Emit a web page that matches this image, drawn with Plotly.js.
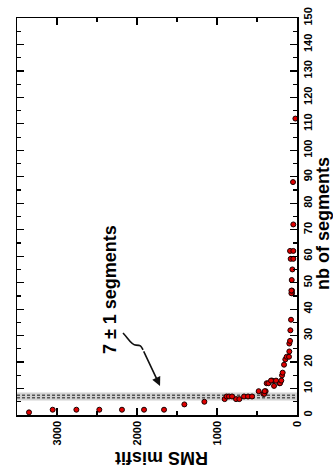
<!DOCTYPE html>
<html><head><meta charset="utf-8">
<script src="https://cdn.plot.ly/plotly-3.0.1.min.js"></script>
<style>html,body{margin:0;padding:0;background:#fff;}#chart{width:333px;height:474px;}</style>
</head><body><div id="chart"></div>
<script>
// RMS misfit (x) and number of segments (y)
const rmsMisfit = [3350, 3054, 2758, 2471, 2188, 1912, 1662, 1408, 1158,
  904, 762, 721, 880, 850, 812, 662, 612, 562,
  421, 408, 479, 392, 404,
  287, 379, 358, 221, 212, 312, 262, 196, 325,
  187, 179, 162, 146, 129, 100, 96, 96, 87, 83, 75,
  62, 70, 62, 70, 66, 58, 79, 46, 87, 46, 46, 50, 20];
const nbSegments = [1, 2, 2, 2, 2, 2, 2, 4, 5,
  6, 6, 6, 7, 7, 7, 7, 7, 7,
  8, 8, 9, 9, 9,
  11, 12, 12, 12, 12, 13, 13, 13, 13,
  15, 16, 19, 21, 22, 22, 24, 27, 28, 32, 36,
  46, 46, 47, 47, 51, 55, 59, 59, 62, 62, 72, 88, 112];
const xTickVals = [0, 1000, 2000, 3000];
const yTickVals = [0, 10, 20, 30, 40, 50, 60, 70, 80, 90, 100, 110, 120, 130, 140, 150];
const bandLow = 6, bandHigh = 8;

const font = {family: 'Liberation Sans, Arial, sans-serif', color: '#000'};

const trace = {
  x: rmsMisfit, y: nbSegments, type: 'scatter', mode: 'markers',
  marker: {size: 5, color: '#e00000', line: {color: '#1a0000', width: 1}},
  cliponaxis: false, hoverinfo: 'none'
};

const layout = {
  width: 333, height: 474,
  margin: {l: 17, r: 36, t: 18, b: 59},
  paper_bgcolor: '#fff', plot_bgcolor: '#fff',
  showlegend: false,
  font: font,
  xaxis: {
    range: [3500, 0], showgrid: false, zeroline: false,
    showline: true, linecolor: '#000', linewidth: 1.5, mirror: 'ticks',
    ticks: 'inside', ticklen: 7, tickwidth: 1.2, tickcolor: '#000',
    tickvals: xTickVals, ticktext: xTickVals.map(String),
    tickangle: -90,
    tickfont: {family: font.family, size: 11, weight: 'bold', color: '#000'},
    minor: {dtick: 500, ticks: 'inside', ticklen: 4, tickwidth: 1.2, tickcolor: '#000', showgrid: false},
    automargin: false
  },
  yaxis: {
    range: [0, 150], side: 'right', showgrid: false, zeroline: false,
    showline: true, linecolor: '#000', linewidth: 1.5, mirror: 'ticks',
    ticks: 'inside', ticklen: 7, tickwidth: 1.2, tickcolor: '#000',
    tickvals: yTickVals, ticktext: yTickVals.map(String),
    tickangle: -90,
    tickfont: {family: font.family, size: 11, weight: 'bold', color: '#000'},
    minor: {dtick: 5, ticks: 'inside', ticklen: 4, tickwidth: 1.2, tickcolor: '#000', showgrid: false},
    automargin: false
  },
  shapes: [
    {type: 'rect', xref: 'paper', x0: 0, x1: 1, yref: 'y', y0: bandLow - 0.5, y1: bandHigh + 0.5,
     fillcolor: '#d2d2d2', line: {width: 0}, layer: 'below'},
    {type: 'line', xref: 'paper', x0: 0, x1: 1, yref: 'y', y0: bandLow + 0.5, y1: bandLow + 0.5,
     line: {color: '#555', width: 1.5, dash: '3px,2px'}, layer: 'below'},
    {type: 'line', xref: 'paper', x0: 0, x1: 1, yref: 'y', y0: bandHigh - 0.5, y1: bandHigh - 0.5,
     line: {color: '#555', width: 1.5, dash: '3px,2px'}, layer: 'below'},
    {type: 'path', xref: 'x', yref: 'y',
     path: 'M 2175,31 C 2112,29.1 2075,26.4 2012,26.4 S 1950,26.1 1925,24.6',
     line: {color: '#111', width: 1.6}}
  ],
  annotations: [
    {xref: 'x', yref: 'y', x: 1712, y: 11, axref: 'x', ayref: 'y', ax: 1925, ay: 24.6,
     text: '', showarrow: true, arrowhead: 2, arrowsize: 1.1, arrowwidth: 1.6, arrowcolor: '#111'},
    {xref: 'paper', yref: 'paper', x: 0.332, y: 0.317, xanchor: 'center', yanchor: 'middle',
     text: '7 ± 1 segments', textangle: -90, showarrow: false,
     font: {family: font.family, size: 18, weight: 'bold', color: '#000'}},
    {xref: 'paper', yref: 'paper', x: 0.516, y: -0.107, xanchor: 'center', yanchor: 'middle',
     text: 'RMS misfit', textangle: 180, showarrow: false,
     font: {family: font.family, size: 18, weight: 'bold', color: '#000'}},
    {xref: 'paper', yref: 'paper', x: 1.093, y: 0.481, xanchor: 'center', yanchor: 'middle',
     text: 'nb of segments', textangle: -90, showarrow: false,
     font: {family: font.family, size: 18, weight: 'bold', color: '#000'}}
  ]
};

Plotly.newPlot('chart', [trace], layout, {staticPlot: true, displayModeBar: false});
</script></body></html>
